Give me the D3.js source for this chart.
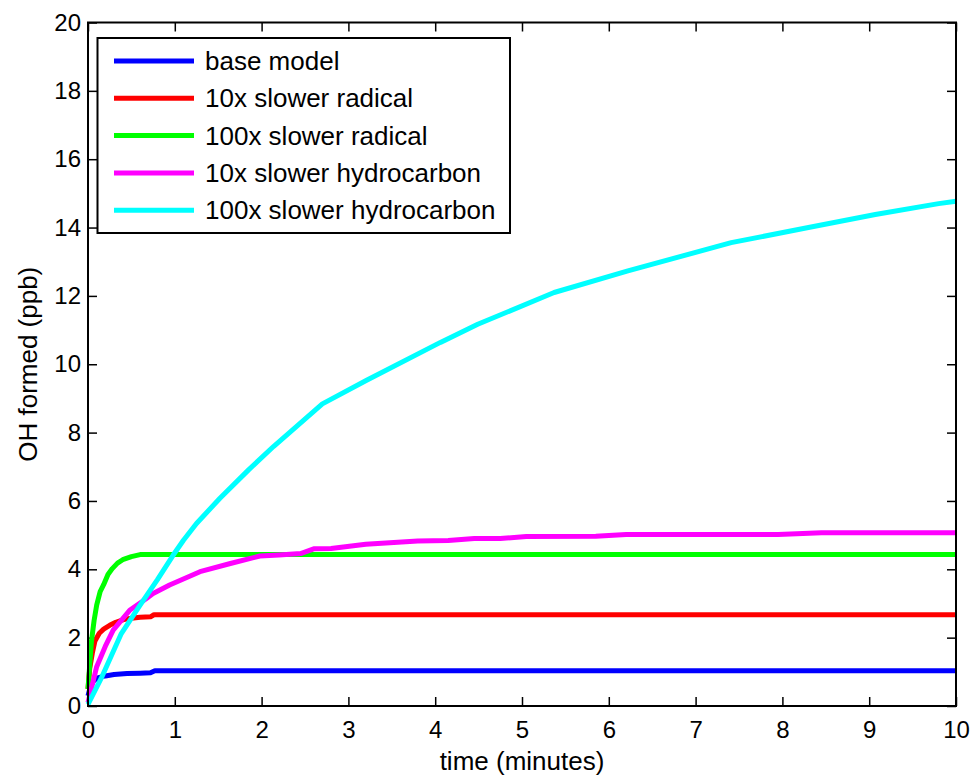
<!DOCTYPE html>
<html>
<head>
<meta charset="utf-8">
<script src="https://cdn.jsdelivr.net/npm/d3@7"></script>
<style>
  body { margin: 0; background: #fff; }
  text { font-family: "Liberation Sans", Arial, Helvetica, sans-serif; fill: #000; }
</style>
</head>
<body>
<script>
// chart size and margins
var w = 975;
var h = 776;
var margin = {top: 22.5, right: 19, bottom: 70, left: 88};

// series names and colours
var seriesNames = ["base model", "10x slower radical", "100x slower radical",
                   "10x slower hydrocarbon", "100x slower hydrocarbon"];
var seriesColors = ["#0000ff", "#ff0000", "#00ff00", "#ff00ff", "#00ffff"];

// values (time in minutes, OH in ppb)
var baseTime = [0, 0.03, 0.07, 0.12, 0.2, 0.3, 0.45, 0.6, 0.72, 0.77, 1, 10];
var baseOH   = [0.3, 0.6, 0.75, 0.83, 0.88, 0.92, 0.95, 0.96, 0.97, 1.03, 1.03, 1.03];

var rad10Time = [0, 0.02, 0.05, 0.08, 0.13, 0.18, 0.25, 0.32, 0.41, 0.5, 0.6, 0.72, 0.76, 10];
var rad10OH   = [0.5, 1.1, 1.55, 1.9, 2.13, 2.25, 2.36, 2.45, 2.53, 2.57, 2.6, 2.61, 2.67, 2.67];

var rad100Time = [0, 0.02, 0.04, 0.07, 0.1, 0.14, 0.18, 0.23, 0.28, 0.34, 0.4, 0.5, 0.6, 10];
var rad100OH   = [0.5, 1.2, 1.9, 2.5, 2.95, 3.35, 3.55, 3.85, 4.02, 4.18, 4.28, 4.37, 4.43, 4.43];

var hc10Time = [0, 0.1, 0.2, 0.29, 0.48, 0.67, 0.75, 0.94, 1.29, 1.64, 1.98, 2.2, 2.45, 2.6,
                2.8, 3.2, 3.8, 4.15, 4.45, 4.75, 5.05, 5.85, 6.2, 7.95, 8.45, 10];
var hc10OH   = [0.1, 1.15, 1.75, 2.22, 2.8, 3.14, 3.29, 3.54, 3.93, 4.17, 4.39, 4.42, 4.46, 4.6,
                4.61, 4.73, 4.83, 4.84, 4.9, 4.9, 4.96, 4.97, 5.02, 5.02, 5.07, 5.07];

var hc100Time = [0, 0.15, 0.38, 0.6, 0.8, 0.98, 1.1, 1.25, 1.52, 1.85, 2.14, 2.7, 3.21, 4.06, 4.49,
                 5.37, 6.22, 7.41, 8.3, 9.07, 9.8, 10];
var hc100OH   = [0.05, 0.8, 2.1, 2.95, 3.7, 4.41, 4.85, 5.34, 6.08, 6.91, 7.6, 8.84, 9.53, 10.64, 11.17,
                 12.1, 12.73, 13.56, 14.0, 14.38, 14.7, 14.77];

var xTicks = [0, 1, 2, 3, 4, 5, 6, 7, 8, 9, 10];
var yTicks = [0, 2, 4, 6, 8, 10, 12, 14, 16, 18, 20];

// pair the arrays up for d3.line
var allTimes = [baseTime, rad10Time, rad100Time, hc10Time, hc100Time];
var allValues = [baseOH, rad10OH, rad100OH, hc10OH, hc100OH];
var dataset = allTimes.map(function(ts, i) {
  return ts.map(function(t, j) { return [t, allValues[i][j]]; });
});

var iw = w - margin.left - margin.right;
var ih = h - margin.top - margin.bottom;

var xScale = d3.scaleLinear().domain([0, 10]).range([0, iw]);
var yScale = d3.scaleLinear().domain([0, 20]).range([ih, 0]);

var svg = d3.select("body").append("svg")
    .attr("width", w)
    .attr("height", h);

var g = svg.append("g")
    .attr("transform", "translate(" + margin.left + "," + margin.top + ")");

// axes, matlab style: ticks pointing in on all four sides
var tickLen = 9;

var xAxis = g.append("g")
    .attr("transform", "translate(0," + ih + ")")
    .call(d3.axisBottom(xScale).tickValues(xTicks).tickFormat(d3.format("d"))
      .tickSizeInner(-tickLen).tickSizeOuter(0).tickPadding(15));

var yAxis = g.append("g")
    .call(d3.axisLeft(yScale).tickValues(yTicks).tickFormat(d3.format("d"))
      .tickSizeInner(-tickLen).tickSizeOuter(0).tickPadding(7));

var topAxis = g.append("g")
    .call(d3.axisTop(xScale).tickValues(xTicks).tickFormat("")
      .tickSizeInner(-tickLen).tickSizeOuter(0));

var rightAxis = g.append("g")
    .attr("transform", "translate(" + iw + ",0)")
    .call(d3.axisRight(yScale).tickValues(yTicks).tickFormat("")
      .tickSizeInner(-tickLen).tickSizeOuter(0));

[xAxis, yAxis, topAxis, rightAxis].forEach(function(a) {
  a.select(".domain").remove();
  a.selectAll(".tick line").attr("stroke", "#000").attr("stroke-width", 1.5);
  a.selectAll(".tick text").style("font-size", "24px").attr("fill", "#000");
});

// lines
var line = d3.line()
    .x(function(d) { return xScale(d[0]); })
    .y(function(d) { return yScale(d[1]); });

g.selectAll(".series")
    .data(dataset)
    .enter()
    .append("path")
    .attr("class", "series")
    .attr("d", line)
    .attr("fill", "none")
    .attr("stroke", function(d, i) { return seriesColors[i]; })
    .attr("stroke-width", 5)
    .attr("stroke-linejoin", "round");

// box around the plot
g.append("rect")
    .attr("width", iw)
    .attr("height", ih)
    .attr("fill", "none")
    .attr("stroke", "#000")
    .attr("stroke-width", 2);

// legend
var legend = svg.append("g").attr("transform", "translate(97.5,38)");
legend.append("rect")
    .attr("width", 412.5)
    .attr("height", 195)
    .attr("fill", "#fff")
    .attr("stroke", "#000")
    .attr("stroke-width", 2);

var rows = legend.selectAll(".row")
    .data(seriesNames)
    .enter()
    .append("g")
    .attr("transform", function(d, i) { return "translate(0," + (23 + i * 37.3) + ")"; });

rows.append("line")
    .attr("x1", 16.5).attr("x2", 96.5)
    .attr("stroke", function(d, i) { return seriesColors[i]; })
    .attr("stroke-width", 5);

rows.append("text")
    .attr("x", 107.5)
    .attr("dy", "0.35em")
    .style("font-size", "26px")
    .text(function(d) { return d; });

// axis titles
svg.append("text")
    .attr("x", margin.left + iw / 2)
    .attr("y", 770)
    .attr("text-anchor", "middle")
    .style("font-size", "26px")
    .text("time (minutes)");

svg.append("text")
    .attr("transform", "translate(37," + (margin.top + ih / 2) + ") rotate(-90)")
    .attr("text-anchor", "middle")
    .style("font-size", "26px")
    .text("OH formed (ppb)");
</script>
</body>
</html>
